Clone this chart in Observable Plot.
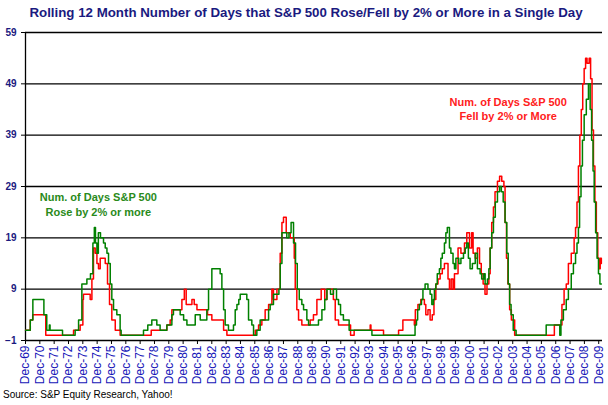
<!DOCTYPE html>
<html><head><meta charset="utf-8">
<script src="https://cdn.jsdelivr.net/npm/d3@7"></script>
<script src="https://cdn.jsdelivr.net/npm/@observablehq/plot@0.6"></script>
<style>
body{margin:0;background:#fff;font-family:"Liberation Sans",Arial,sans-serif;}
#wrap{width:608px;height:405px;position:relative;overflow:hidden;background:#fff;}
#title{height:26px;line-height:26px;text-align:center;font-weight:bold;font-size:13.3px;color:#1a1a80;white-space:nowrap;padding-left:4px;}
#chart svg{display:block;}
#src{font-size:10px;line-height:14px;padding-left:3px;color:#000;}
</style></head>
<body><div id="wrap"><div id="title">Rolling 12 Month Number of Days that S&amp;P 500 Rose/Fell by 2% or More in a Single Day</div><div id="chart"></div><div id="src">Source: S&amp;P Equity Research, Yahoo!</div></div>
<script>
// Red: number of days S&P 500 fell by 2% or more (rolling 12 months); year = decimal year of change
const redYears = [1969.92,1970.25,1970.42,1971.33,1973.27,1973.73,1973.92,1973.96,1974.43,1974.55,1974.66,1974.78,1974.9,1975.01,1975.13,1975.48,1975.64,1975.78,1975.94,1976.18,1976.52,
1978.69,1979.78,1980.01,1980.13,1980.83,1981.0,1981.13,1981.53,1981.69,1981.88,1982.62,1982.92,1983.74,1983.97,
1985.95,1986.18,1986.41,1986.64,1986.88,1987.11,1987.22,1987.46,1987.69,1987.81,1987.92,1988.11,1988.39,1988.67,1988.74,1988.85,1988.97,1989.2,1989.78,1990.01,1990.25,1990.55,1990.8,1990.95,1991.4,1991.53,1991.76,1992.6,1992.85,1993.97,1994.02,1994.9,1995.95,1996.25,1997.05,1997.12,1997.3,1997.5,1997.75,1997.85,1998.0,1998.15,1998.3,1998.42,1998.55,1998.7,1998.85,1999.0,1999.15,1999.4,1999.5,1999.62,1999.75,1999.85,2000.1,2000.3,2000.55,2000.71,2000.9,2001.05,2001.15,2001.3,2001.45,2001.6,2001.72,2001.85,2001.98,2002.12,2002.25,2002.34,2002.45,2002.57,2002.68,2002.85,2003.0,2003.15,2003.3,2003.38,2003.48,2003.58,2003.7,2003.82,2004.05,
2006.82,2007.35,2007.5,2007.65,2007.8,2008.0,2008.2,2008.3,2008.4,2008.5,2008.6,2008.7,2008.8,2008.9,2009.0,2009.1,2009.25,2009.35,2009.45,2009.55,2009.65,2009.75,2009.85,2009.95,2010.02,2010.1];
const redDays = [1,3,4,0,1,2,7,8,7,11,17,16,14,13,15,14,10,6,3,1,0,
1,2,3,5,7,9,6,7,6,5,4,3,1,0,
1,2,3,5,6,9,7,9,16,22,23,20,19,15,9,5,3,2,3,4,7,9,7,9,7,3,2,0,1,2,1,0,1,3,2,5,6,7,6,4,5,3,4,7,10,11,12,13,14,11,9,11,9,12,17,16,18,20,17,20,16,15,17,14,12,10,8,10,12,17,22,25,28,30,31,30,29,22,15,10,5,3,0,
2,6,9,10,14,16,19,21,26,33,39,44,49,52,54,53,54,50,40,33,26,20,15,13,15,14];

// Green: number of days S&P 500 rose by 2% or more (rolling 12 months)
const greenYears = [1969.92,1970.25,1970.43,1971.2,1971.4,1971.58,1971.63,1972.5,1973.38,1973.62,1973.85,1974.2,1974.45,1974.62,1974.72,1974.8,1974.9,1975.0,1975.15,1975.36,1975.48,1975.6,1975.71,1975.83,1975.94,1976.06,1976.29,1976.52,1976.59,
1978.15,1978.45,1978.73,1979.08,1979.31,1979.78,1980.13,1980.24,1980.71,1980.95,1981.18,1981.76,1982.11,1982.57,1982.69,1982.92,1983.5,1983.62,1983.74,1983.85,1984.08,1984.43,1984.55,1984.67,1984.8,1984.9,1985.36,1985.48,1985.71,1985.83,
1986.06,1986.29,1986.88,1986.99,1987.22,1987.6,1987.69,1987.81,1988.15,1988.3,1988.45,1988.62,1988.76,1988.88,1989.02,1989.2,1989.32,1989.55,1989.67,1990.36,1990.6,1990.8,1990.95,1991.2,1991.4,1991.62,1991.76,1991.9,1992.1,1992.5,1994.09,
1997.1,1997.2,1997.28,1997.4,1997.55,1997.65,1997.8,1998.0,1998.15,1998.27,1998.38,1998.45,1998.55,1998.65,1998.8,1998.9,1999.0,1999.15,1999.25,1999.35,1999.5,1999.6,1999.75,1999.85,1999.95,2000.15,2000.3,2000.48,2000.6,2000.71,2000.82,2000.94,2001.1,2001.3,2001.45,2001.64,2001.75,2001.9,2001.99,2002.15,2002.25,2002.34,2002.45,2002.57,2002.7,2002.85,2003.0,2003.12,2003.25,2003.38,2003.5,2003.6,2003.7,2003.8,2003.95,2004.15,
2006.25,2007.2,2007.28,2007.45,2007.65,2007.8,2008.0,2008.15,2008.3,2008.4,2008.5,2008.58,2008.68,2008.78,2008.9,2009.05,2009.2,2009.32,2009.42,2009.52,2009.6,2009.7,2009.8,2009.9,2010.0,2010.1];
const greenDays = [1,3,7,4,1,2,1,0,1,3,10,11,12,18,21,18,16,20,19,18,17,16,14,10,7,5,4,1,0,
1,2,3,2,1,2,4,5,4,3,2,4,3,5,9,13,12,9,5,2,1,2,5,6,7,8,7,3,2,0,
1,3,5,6,8,9,14,20,19,20,22,18,14,9,7,6,5,3,2,3,5,7,9,8,9,7,6,4,3,1,0,
2,3,5,6,7,9,10,9,8,6,7,9,10,12,13,15,16,18,20,21,17,16,14,13,15,14,15,16,17,18,15,13,14,16,13,12,11,12,10,11,13,17,20,23,26,28,29,28,26,22,16,10,6,4,1,0,
2,0,3,5,7,9,12,14,16,18,21,27,33,38,43,46,49,44,38,32,26,20,15,12,10,10];

const tickYears = d3.range(1969, 2010);             // a tick every December
const tickLabels = tickYears.map(y => "Dec-" + String(y % 100).padStart(2, "0"));
const yTicks = [-1, 9, 19, 29, 39, 49, 59];
const noteText = ["Num. of Days S&P 500\nRose by 2% or more", "Num. of Days S&P 500\nFell by 2% or More"];
const noteYear = [1975.0, 2003.6];
const noteDays = [25.6, 44.2];
const noteColor = ["#2a8a1a", "#ff2020"];

const red = redYears.map((x, i) => ({year: x, days: redDays[i]}));
const green = greenYears.map((x, i) => ({year: x, days: greenDays[i]}));
const tickPos = tickYears.map(y => y + 11 / 12);
const labelOf = new Map(tickPos.map((p, i) => [p, tickLabels[i]]));
const notes = noteText.map((t, i) => ({text: t, year: noteYear[i], days: noteDays[i], color: noteColor[i]}));
const x0 = 1969 + 11 / 12;

const chart = Plot.plot({
  width: 608, height: 362,
  marginTop: 6, marginBottom: 48, marginLeft: 25, marginRight: 6,
  x: {domain: [x0, 2010.18], axis: null},
  y: {domain: [-1, 59], axis: null},
  style: {fontFamily: '"Liberation Sans", Arial, sans-serif', background: "white", overflow: "visible"},
  marks: [
    Plot.ruleY(yTicks, {stroke: "black", strokeWidth: 1.3}),
    Plot.ruleX([x0], {stroke: "black", strokeWidth: 1.3}),
    Plot.axisY(yTicks, {tickSize: 4, tickPadding: 5, fontSize: 10, fontWeight: "bold", fill: "#1a1a80", stroke: "black", label: null}),
    Plot.axisX(tickPos, {tickSize: 4, tickPadding: 1, tickRotate: -90, fontSize: 12, fill: "#1515b8", stroke: "black", tickFormat: d => labelOf.get(d), label: null}),
    Plot.line(red, {x: "year", y: "days", stroke: "#ff0000", strokeWidth: 1.5, curve: "step-after"}),
    Plot.line(green, {x: "year", y: "days", stroke: "#008000", strokeWidth: 1.5, curve: "step-after"}),
    Plot.text(notes, {x: "year", y: "days", text: "text", fill: "color", fontSize: 11, fontWeight: "bold", lineHeight: 1.3})
  ]
});
document.getElementById("chart").appendChild(chart);
</script>
</body></html>
